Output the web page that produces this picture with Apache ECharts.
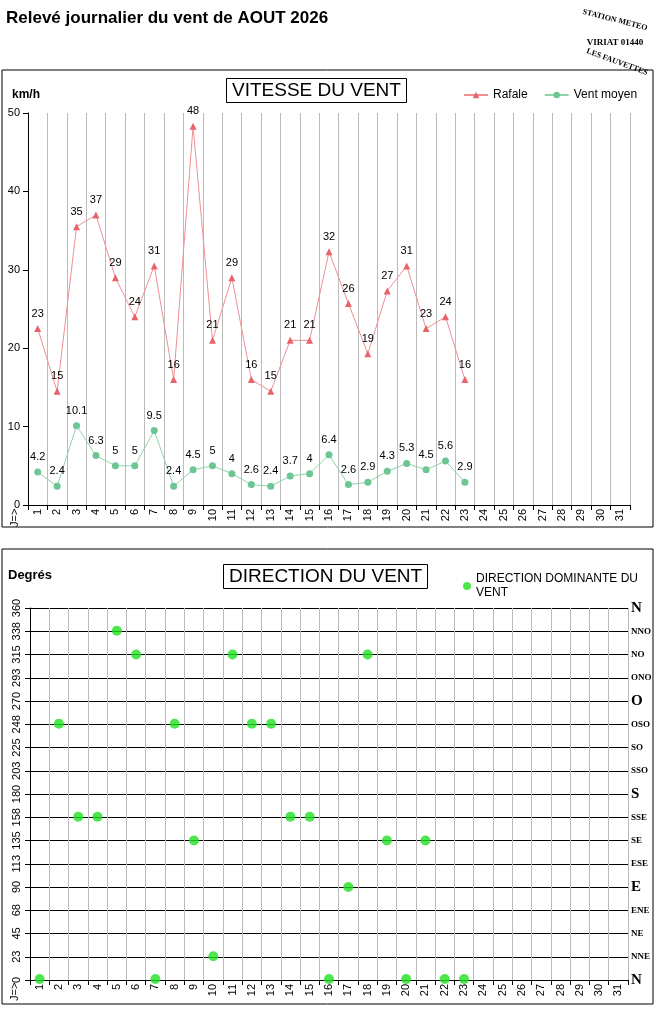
<!DOCTYPE html>
<html><head><meta charset="utf-8">
<script src="https://cdn.jsdelivr.net/npm/echarts@6/dist/echarts.min.js"></script>
<style>html,body{margin:0;padding:0;background:#fff}#c{width:657px;height:1018px}</style>
</head><body><div id="c"></div>
<script>
const days = Array.from({length:31},(_,i)=>String(i+1));
const rafale = [22.5,14.5,35.5,37,29,24,30.5,16,48.3,21,29,16,14.5,21,21,32.3,25.7,19.3,27.3,30.5,22.5,24,16];
const rafaleLabels = [23,15,35,37,29,24,31,16,48,21,29,16,15,21,21,32,26,19,27,31,23,24,16];
const ventMoyen = [4.2,2.4,10.1,6.3,5,5,9.5,2.4,4.5,5,4,2.6,2.4,3.7,4,6.4,2.6,2.9,4.3,5.3,4.5,5.6,2.9];
const direction = [1,248,158,158,338,315,1,248,135,23,315,248,248,158,158,1,90,315,135,1,135,1,1];
const compass = ['N','NNE','NE','ENE','E','ESE','SE','SSE','S','SSO','SO','OSO','O','ONO','NO','NNO','N'];

const chart = echarts.init(document.getElementById('c'));
const font = 'Liberation Sans, Arial, sans-serif';
const xLab = {fontSize:11,rotate:90,color:'#000',fontFamily:font,margin:4};
chart.setOption({
  animation:false,
  textStyle:{fontFamily:font},
  title:[
    {text:'VITESSE DU VENT',left:226,top:78,padding:[3,6],borderColor:'#000',borderWidth:1,textStyle:{fontSize:19,fontWeight:'normal',color:'#000'}},
    {text:'DIRECTION DU VENT',left:223,top:564,padding:[3,6],borderColor:'#000',borderWidth:1,textStyle:{fontSize:19,fontWeight:'normal',color:'#000'}}
  ],
  legend:[{data:['Rafale','Vent moyen'],left:458,top:84,itemWidth:24,itemHeight:8,itemGap:16,textStyle:{fontSize:12,color:'#000'}},
          {data:['DIRECTION DOMINANTE DU VENT'],left:458,top:567,itemWidth:8,itemHeight:8,itemGap:4,textStyle:{fontSize:12,color:'#000',width:180,overflow:'break',lineHeight:14}}],
  graphic:[
    {type:'rect',shape:{x:2,y:70,width:651,height:457},style:{fill:'none',stroke:'#000',lineWidth:1}},
    {type:'rect',shape:{x:2,y:549,width:651,height:455},style:{fill:'none',stroke:'#000',lineWidth:1}},
    {type:'text',left:6,top:10,style:{text:'Relevé journalier du vent de AOUT 2026',font:'bold 17px '+font,fill:'#000'}},
    {type:'text',left:12,top:89,style:{text:'km/h',font:'bold 12px '+font,fill:'#000'}},
    {type:'text',left:8,top:569,style:{text:'Degrés',font:'bold 13px '+font,fill:'#000'}},
    {type:'text',x:9,y:527,rotation:Math.PI/2,style:{text:'J=>',font:'11px '+font,fill:'#000'}},
    {type:'text',x:9,y:1001,rotation:Math.PI/2,style:{text:'J=>',font:'11px '+font,fill:'#000'}},
    {type:'text',x:615,y:20,rotation:-0.25,style:{text:'STATION METEO',font:'bold 8px serif',fill:'#000',align:'center',verticalAlign:'middle'}},
    {type:'text',x:615,y:43,style:{text:'VIRIAT 01440',font:'bold 9px serif',fill:'#000',align:'center',verticalAlign:'middle'}},
    {type:'text',x:617,y:62,rotation:-0.35,style:{text:'LES FAUVETTES',font:'bold 8px serif',fill:'#000',align:'center',verticalAlign:'middle'}}
  ],
  grid:[{left:28,right:27,top:113,height:392},{left:30,right:29,top:608,height:372}],
  xAxis:[
    {type:'category',gridIndex:0,data:days,boundaryGap:true,axisLine:{lineStyle:{color:'#000'}},axisTick:{show:true,lineStyle:{color:'#000'}},axisLabel:xLab,splitLine:{show:true,lineStyle:{color:'#bbb'}}},
    {type:'category',gridIndex:1,data:days,boundaryGap:true,axisLine:{lineStyle:{color:'#000'}},axisTick:{show:true,lineStyle:{color:'#000'}},axisLabel:xLab,splitLine:{show:true,lineStyle:{color:'#bbb'}}}
  ],
  yAxis:[
    {type:'value',gridIndex:0,min:0,max:50,interval:10,axisLine:{show:true,lineStyle:{color:'#000'}},axisTick:{show:true,lineStyle:{color:'#000'}},axisLabel:{fontSize:11,color:'#000'},splitLine:{show:false}},
    {type:'value',gridIndex:1,min:0,max:360,interval:22.5,axisLine:{show:true,lineStyle:{color:'#000'}},axisTick:{show:true,lineStyle:{color:'#000'}},
      axisLabel:{fontSize:11,color:'#000',rotate:90,formatter:v=>String(Math.round(v))},splitLine:{show:true,lineStyle:{color:'#000',width:1}}},
    {type:'value',gridIndex:1,position:'right',min:0,max:360,interval:22.5,axisLine:{show:false},axisTick:{show:false},splitLine:{show:false},
      axisLabel:{margin:3,fontFamily:'Liberation Serif, serif',fontWeight:'bold',color:'#000',
        formatter:v=>{const s=compass[Math.round(v/22.5)];return s.length===1?'{b|'+s+'}':'{s|'+s+'}';},
        rich:{b:{fontSize:15,fontWeight:'bold',fontFamily:'Liberation Serif, serif'},s:{fontSize:9,fontWeight:'bold',fontFamily:'Liberation Serif, serif'}}}}
  ],
  series:[
    {name:'Rafale',type:'line',xAxisIndex:0,yAxisIndex:0,data:rafale,symbol:'triangle',symbolSize:7,
      itemStyle:{color:'#E8636A'},lineStyle:{color:'#EE8F93',width:1},
      label:{show:true,position:'top',distance:6,fontSize:11,color:'#000',formatter:p=>rafaleLabels[p.dataIndex]}},
    {name:'Vent moyen',type:'line',xAxisIndex:0,yAxisIndex:0,data:ventMoyen,symbol:'circle',symbolSize:7,
      itemStyle:{color:'#6CC592'},lineStyle:{color:'#8ED3AA',width:1},
      label:{show:true,position:'top',distance:6,fontSize:11,color:'#000'}},
    {name:'DIRECTION DOMINANTE DU VENT',type:'scatter',xAxisIndex:1,yAxisIndex:1,data:direction,symbol:'circle',symbolSize:10,itemStyle:{color:'#22E022'}}
  ]
});
</script></body></html>
